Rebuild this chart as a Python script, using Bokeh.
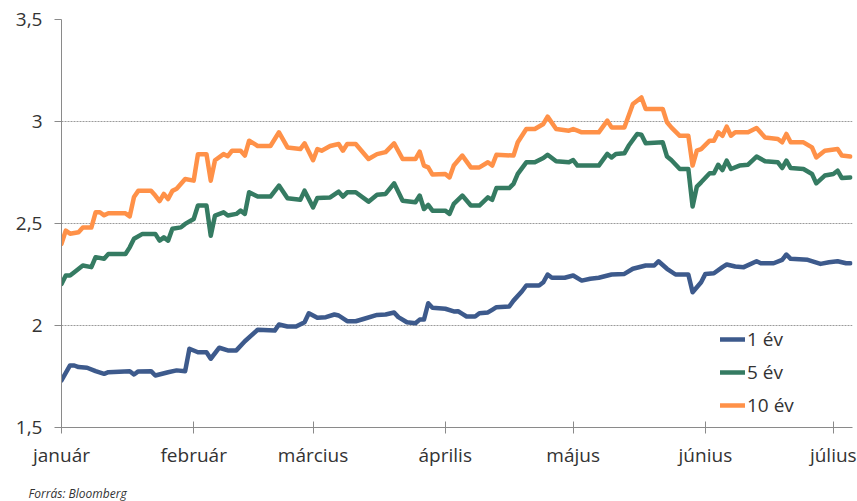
from bokeh.plotting import figure
from bokeh.models import Range1d, FixedTicker, Legend, LegendItem, Label
from bokeh.embed import file_html
from bokeh.resources import INLINE

# Days since 1 January (x), yields in % (y)
month_days = [0, 31, 59, 90, 120, 151, 181]
month_names = ["január", "február", "március", "április", "május", "június", "július"]

y_ticks = [1.5, 2.0, 2.5, 3.0, 3.5]
y_tick_labels = ["1,5", "2", "2,5", "3", "3,5"]

days_1y = [0, 2, 3, 4, 6, 8, 10, 11, 16, 17, 18, 21, 22, 25, 27, 29, 30, 32, 34, 35,
           37, 39, 41, 43, 46, 50, 51, 53, 55, 57, 58, 60, 62, 64, 65, 67, 69, 71, 74, 76,
           78, 79, 81, 83, 84, 85, 86, 87, 90, 92, 93, 94, 95, 97, 98, 100, 101, 102, 105, 106,
           108, 109, 112, 113, 114, 115, 118, 120, 122, 124, 126, 129, 132, 134, 137, 139, 140, 142, 144, 147,
           148, 150, 151, 153, 155, 156, 158, 160, 163, 164, 167, 169, 170, 171, 175, 178, 180, 182, 184, 185]
vals_1y = [1.731, 1.804, 1.804, 1.796, 1.793, 1.776, 1.763, 1.771, 1.776, 1.760, 1.775, 1.776, 1.755, 1.771, 1.780, 1.776, 1.886, 1.869, 1.869, 1.837,
           1.891, 1.878, 1.878, 1.923, 1.979, 1.975, 2.005, 1.995, 1.995, 2.016, 2.060, 2.038, 2.041, 2.054, 2.049, 2.021, 2.021, 2.033, 2.052, 2.054,
           2.064, 2.041, 2.016, 2.011, 2.029, 2.029, 2.109, 2.087, 2.082, 2.069, 2.070, 2.057, 2.044, 2.044, 2.060, 2.064, 2.077, 2.090, 2.093, 2.122,
           2.168, 2.196, 2.196, 2.212, 2.250, 2.234, 2.234, 2.245, 2.220, 2.229, 2.234, 2.250, 2.253, 2.278, 2.294, 2.294, 2.315, 2.278, 2.250, 2.250,
           2.163, 2.212, 2.253, 2.256, 2.286, 2.299, 2.289, 2.286, 2.315, 2.305, 2.305, 2.322, 2.348, 2.327, 2.322, 2.302, 2.310, 2.315, 2.305, 2.305]

days_5y = [0, 1, 2, 3, 5, 7, 8, 10, 11, 15, 16, 17, 19, 22, 23, 24, 25, 26, 28, 29,
           31, 32, 34, 35, 36, 38, 39, 41, 42, 43, 44, 46, 49, 51, 53, 56, 57, 59, 60, 63,
           65, 66, 67, 69, 72, 74, 76, 78, 80, 83, 84, 85, 86, 87, 90, 91, 92, 94, 96, 98,
           100, 101, 102, 105, 106, 107, 109, 111, 113, 114, 116, 119, 120, 121, 126, 128, 129, 130, 132, 133,
           135, 136, 137, 141, 142, 143, 145, 147, 148, 149, 150, 152, 153, 154, 155, 156, 157, 159, 161, 163,
           165, 168, 169, 170, 171, 174, 176, 177, 179, 181, 182, 183, 185]
vals_5y = [2.204, 2.245, 2.245, 2.261, 2.294, 2.286, 2.335, 2.327, 2.351, 2.351, 2.383, 2.425, 2.449, 2.449, 2.416, 2.432, 2.416, 2.474, 2.481, 2.498,
           2.522, 2.588, 2.588, 2.440, 2.539, 2.555, 2.539, 2.547, 2.563, 2.547, 2.653, 2.632, 2.632, 2.686, 2.624, 2.616, 2.661, 2.579, 2.625, 2.628,
           2.656, 2.632, 2.653, 2.653, 2.607, 2.641, 2.645, 2.697, 2.612, 2.604, 2.637, 2.571, 2.591, 2.563, 2.563, 2.547, 2.596, 2.637, 2.588, 2.588,
           2.628, 2.616, 2.674, 2.674, 2.694, 2.743, 2.800, 2.800, 2.821, 2.837, 2.805, 2.800, 2.811, 2.784, 2.784, 2.841, 2.824, 2.841, 2.844, 2.881,
           2.939, 2.935, 2.893, 2.898, 2.828, 2.811, 2.767, 2.767, 2.583, 2.681, 2.702, 2.746, 2.746, 2.788, 2.762, 2.808, 2.767, 2.784, 2.788, 2.828,
           2.805, 2.800, 2.772, 2.808, 2.772, 2.767, 2.743, 2.697, 2.735, 2.743, 2.759, 2.723, 2.726]

days_10y = [0, 1, 2, 4, 5, 7, 8, 9, 10, 11, 15, 16, 17, 18, 21, 22, 23, 24, 25, 26,
            27, 29, 31, 32, 34, 35, 36, 38, 39, 40, 42, 43, 44, 46, 49, 51, 53, 56, 57, 59,
            60, 61, 63, 65, 66, 67, 69, 72, 74, 76, 78, 80, 83, 84, 85, 86, 87, 90, 91, 92,
            94, 96, 98, 100, 101, 102, 106, 107, 109, 111, 113, 114, 116, 119, 120, 121, 122, 126, 128, 129,
            132, 134, 136, 137, 141, 142, 143, 145, 147, 148, 149, 150, 152, 153, 154, 155, 156, 157, 158, 161,
            163, 165, 168, 169, 170, 171, 174, 176, 177, 179, 182, 183, 185]
vals_10y = [2.400, 2.465, 2.450, 2.457, 2.480, 2.480, 2.555, 2.555, 2.540, 2.550, 2.550, 2.535, 2.630, 2.660, 2.660, 2.637, 2.610, 2.645, 2.620, 2.660,
            2.670, 2.718, 2.710, 2.840, 2.840, 2.710, 2.810, 2.840, 2.830, 2.857, 2.857, 2.833, 2.906, 2.880, 2.880, 2.947, 2.873, 2.865, 2.893, 2.810,
            2.865, 2.857, 2.880, 2.890, 2.857, 2.890, 2.890, 2.816, 2.840, 2.850, 2.893, 2.816, 2.816, 2.852, 2.784, 2.775, 2.740, 2.743, 2.726, 2.784,
            2.833, 2.775, 2.775, 2.800, 2.784, 2.837, 2.833, 2.898, 2.963, 2.963, 2.988, 3.024, 2.963, 2.955, 2.963, 2.955, 2.947, 2.947, 3.004, 2.971,
            2.971, 3.086, 3.118, 3.061, 3.061, 2.996, 2.971, 2.930, 2.930, 2.784, 2.857, 2.865, 2.906, 2.906, 2.947, 2.930, 2.975, 2.930, 2.947, 2.947,
            2.968, 2.922, 2.914, 2.898, 2.939, 2.898, 2.898, 2.873, 2.824, 2.857, 2.865, 2.833, 2.828]

series_labels = ["1 év", "5 év", "10 év"]
colors = ["#3d5a8c", "#357b62", "#ff9148"]
source_text = "Forrás: Bloomberg"

FONT = "Open Sans"
TEXT_COLOR = "#333333"
AXIS_COLOR = "#8a8a8a"

p = figure(width=857, height=501, output_backend="svg", toolbar_location=None,
           title=None,
           x_range=Range1d(0, 185.5), y_range=Range1d(1.5, 3.5),
           min_border_left=61, min_border_right=5, min_border_top=19, min_border_bottom=74)
p.outline_line_color = None
p.background_fill_color = "white"
p.border_fill_color = "white"

r10 = p.line(days_10y, vals_10y, color=colors[2], line_width=4.5, line_join="round", line_cap="round")
r5 = p.line(days_5y, vals_5y, color=colors[1], line_width=4.5, line_join="round", line_cap="round")
r1 = p.line(days_1y, vals_1y, color=colors[0], line_width=4.5, line_join="round", line_cap="round")

# x axis
xa = p.xaxis[0]
xa.ticker = FixedTicker(ticks=month_days)
xa.major_label_overrides = {d: n for d, n in zip(month_days, month_names)}
xa.minor_tick_line_color = None
xa.major_tick_in = 6
xa.major_tick_out = 6
xa.major_label_standoff = 8
xa.axis_line_color = AXIS_COLOR
xa.major_tick_line_color = AXIS_COLOR

# y axis
ya = p.yaxis[0]
ya.ticker = FixedTicker(ticks=y_ticks)
ya.major_label_overrides = {t: l for t, l in zip(y_ticks, y_tick_labels)}
ya.minor_tick_line_color = None
ya.major_tick_in = 0
ya.major_tick_out = 7
ya.major_label_standoff = 12
ya.axis_line_color = AXIS_COLOR
ya.major_tick_line_color = AXIS_COLOR

for ax in (xa, ya):
    ax.major_label_text_font = FONT
    ax.major_label_text_font_size = "19px"
    ax.major_label_text_color = TEXT_COLOR

p.xgrid.grid_line_color = None
p.ygrid.ticker = FixedTicker(ticks=y_ticks)
p.ygrid.grid_line_color = "#9a9a9a"
p.ygrid.grid_line_dash = "2 1"
p.ygrid.grid_line_width = 1

legend = Legend(items=[LegendItem(label=series_labels[0], renderers=[r1]),
                       LegendItem(label=series_labels[1], renderers=[r5]),
                       LegendItem(label=series_labels[2], renderers=[r10])],
                location=(659, 9), orientation="vertical",
                glyph_width=25, glyph_height=20, label_height=20, label_standoff=2,
                spacing=7, padding=0, margin=0,
                border_line_color=None, background_fill_alpha=0,
                label_text_font=FONT, label_text_font_size="19px", label_text_color=TEXT_COLOR)
p.add_layout(legend)

# source note, in its own panel below the x axis (not clipped to the frame)
src = Label(x=-33, y=-6, x_units="screen", y_units="screen", text=source_text,
            text_font=FONT, text_font_style="italic", text_font_size="12px",
            text_color=TEXT_COLOR, text_baseline="alphabetic", text_align="left")
p.add_layout(src, "below")

open("out.html", "w").write(file_html(p, INLINE))
